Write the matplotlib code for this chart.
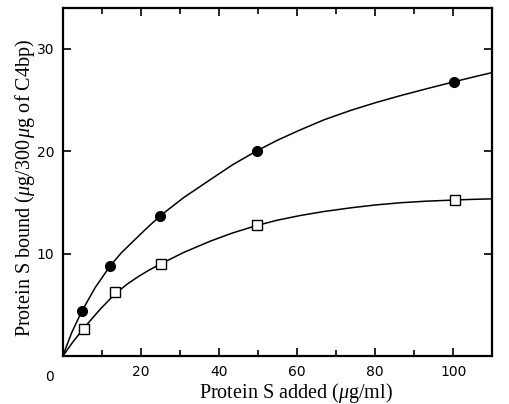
import matplotlib
matplotlib.use('Agg')
import matplotlib.pyplot as plt

plt.rcParams['mathtext.fontset'] = 'custom'
plt.rcParams['mathtext.rm'] = 'Liberation Serif'
plt.rcParams['mathtext.it'] = 'Liberation Serif:italic'

# measured points
x_filled = [4.9, 12.1, 24.9, 49.7, 100.2]
y_filled = [4.4, 8.8, 13.75, 20.06, 26.8]
x_open = [5.5, 13.4, 25.2, 49.9, 100.5]
y_open = [2.7, 6.3, 9.0, 12.8, 15.25]

# fitted curves
curve_x_filled = [0, 2.3, 4.9, 8.3, 12.1, 15.0, 18.5, 21.5, 24.9, 31.0, 37.8, 43.5, 49.7,
                  55.0, 60.8, 67.0, 73.7, 80.0, 86.5, 93.0, 100.2, 105.0, 110]
curve_y_filled = [0, 2.3, 4.4, 6.7, 8.8, 10.1, 11.4, 12.5, 13.7, 15.5, 17.25, 18.7, 20.06,
                  21.1, 22.1, 23.1, 24.0, 24.75, 25.45, 26.1, 26.8, 27.25, 27.7]
curve_x_open = [0, 2.5, 5.5, 9.6, 13.4, 16.5, 19.4, 22.0, 25.2, 31.0, 37.8, 43.5, 49.9,
                55.0, 60.8, 67.0, 73.7, 80.0, 86.5, 93.0, 100.5, 105.0, 110]
curve_y_open = [0, 1.35, 2.8, 4.6, 6.1, 7.05, 7.8, 8.4, 9.05, 10.15, 11.25, 12.05, 12.8,
                13.3, 13.75, 14.15, 14.5, 14.78, 15.0, 15.15, 15.27, 15.33, 15.38]

xticks_major = [20, 40, 60, 80, 100]
xticks_minor = [10, 30, 50, 70, 90, 110]
yticks = [10, 20, 30]

fig = plt.figure(figsize=(5.09, 4.04), dpi=100)
ax = fig.add_axes([0.123, 0.1176, 0.844, 0.8626])

ax.plot(curve_x_filled, curve_y_filled, color='black', lw=1.1, zorder=2)
ax.plot(curve_x_open, curve_y_open, color='black', lw=1.1, zorder=2)
ax.plot(x_filled, y_filled, 'o', ms=7, mfc='black', mec='black', zorder=3)
ax.plot(x_open, y_open, 's', ms=7, mfc='white', mec='black', mew=1.0, zorder=3)

ax.set_xlim(0, 110)
ax.set_ylim(0, 34)

ax.set_xticks(xticks_major)
ax.set_xticks(xticks_minor, minor=True)
ax.set_yticks(yticks)
ax.tick_params(axis='both', which='both', direction='in', top=True, right=True,
               width=1.2, labelsize=10, pad=6)
ax.tick_params(axis='both', which='major', length=6)
ax.tick_params(axis='x', which='minor', length=4)
ax.text(-3.4, -1.3, '0', ha='center', va='top', fontsize=10)

for s in ax.spines.values():
    s.set_linewidth(1.6)

ax.set_xlabel('Protein S added ($\\mathit{\\mu}$g/ml)', fontsize=14.5, family='Liberation Serif')
ax.xaxis.set_label_coords(0.543, -0.07)
ax.set_ylabel('Protein S bound ($\\mathit{\\mu}$g/300$\\,\\mathit{\\mu}$g of C4bp)', fontsize=14.5,
              family='Liberation Serif')
ax.yaxis.set_label_coords(-0.06, 0.485)

fig.savefig('out.png', dpi=100)
